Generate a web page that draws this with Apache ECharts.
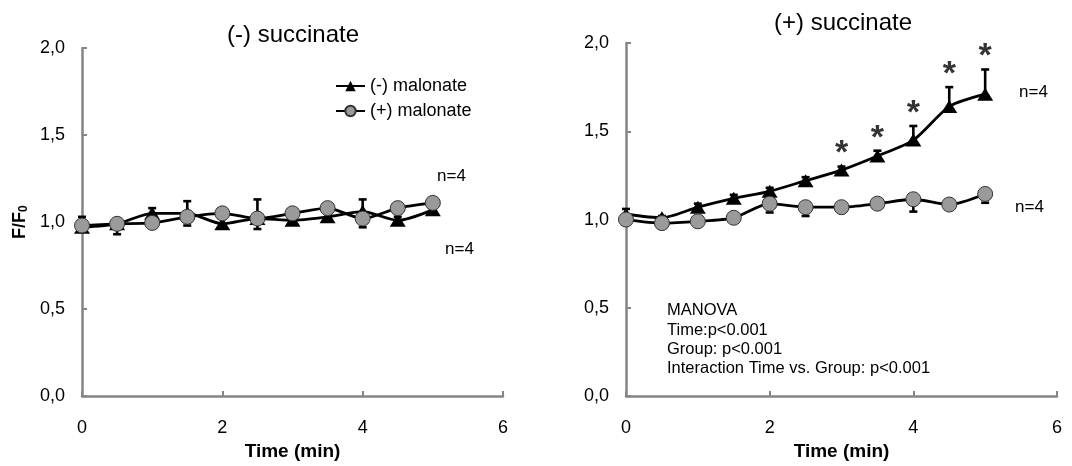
<!DOCTYPE html>
<html>
<head>
<meta charset="utf-8">
<script src="https://cdn.jsdelivr.net/npm/echarts@6/dist/echarts.min.js"></script>
<style>html,body{margin:0;padding:0;background:#fff}#c{width:1072px;height:466px}</style>
</head>
<body>
<div id="c"></div>
<script>
const time = [0, 0.5, 1, 1.5, 2, 2.5, 3, 3.5, 4, 4.5, 5];
const xTicks = [0, 2, 4, 6];
const yTicks = [0, 0.5, 1.0, 1.5, 2.0];
const titles = ['(-) succinate', '(+) succinate'];
const seriesNames = ['(-) malonate', '(+) malonate'];

// (-) succinate panel
const leftNoMal = [0.97, 0.99, 1.05, 1.05, 0.99, 1.02, 1.01, 1.03, 1.06, 1.01, 1.07];
const leftNoMalErr = [0.06, 0.02, 0.03, 0.07, 0.03, 0.11, 0.03, 0.02, 0.07, 0.02, 0.02];
const leftMal = [0.98, 0.99, 0.995, 1.03, 1.05, 1.02, 1.05, 1.08, 1.02, 1.08, 1.11];
const leftMalErr = [0.03, 0.06, 0.02, 0.05, 0.02, 0.06, 0.04, 0.01, 0.05, 0.01, 0.01];

// (+) succinate panel
const rightNoMal = [1.03, 1.01, 1.07, 1.12, 1.16, 1.22, 1.28, 1.36, 1.45, 1.64, 1.71];
const rightNoMalErr = [0.03, 0.01, 0.02, 0.02, 0.02, 0.02, 0.02, 0.03, 0.08, 0.11, 0.14];
const rightMal = [1.0, 0.98, 0.99, 1.01, 1.09, 1.07, 1.07, 1.09, 1.115, 1.085, 1.145];
const rightMalErr = [0.01, 0.01, 0.01, 0.01, 0.05, 0.05, 0.01, 0.02, 0.07, 0.01, 0.05];

const starIdx = [6, 7, 8, 9, 10];
const nLabels = ['n=4', 'n=4'];
const statsLines = ['MANOVA', 'Time:p<0.001', 'Group: p<0.001', 'Interaction Time vs. Group: p<0.001'];

const FONT = '"Liberation Sans", Arial, sans-serif';
const AXC = '#858585';

function pairs(vals) { return time.map((t, i) => [t, vals[i]]); }
function errData(vals, errs, dir) { return time.map((t, i) => [t, vals[i], dir * errs[i]]); }

function errSeries(idx, vals, errs, dir) {
  return {
    type: 'custom', xAxisIndex: idx, yAxisIndex: idx, z: 1, silent: true,
    data: errData(vals, errs, dir),
    renderItem: function (params, api) {
      const x = api.value(0), y = api.value(1), e = api.value(2);
      const p0 = api.coord([x, y]);
      const p1 = api.coord([x, y + e]);
      const st = { stroke: '#000', lineWidth: 2.6 };
      return {
        type: 'group',
        children: [
          { type: 'line', shape: { x1: p0[0], y1: p0[1], x2: p1[0], y2: p1[1] }, style: st },
          { type: 'line', shape: { x1: p1[0] - 4, y1: p1[1], x2: p1[0] + 4, y2: p1[1] }, style: st }
        ]
      };
    }
  };
}

function triSeries(idx, vals) {
  return {
    name: seriesNames[0], type: 'line', xAxisIndex: idx, yAxisIndex: idx, z: 3,
    data: pairs(vals), smooth: 0.25,
    symbol: 'triangle', symbolSize: [16, 13], showSymbol: true,
    lineStyle: { color: '#000', width: 2.8 },
    itemStyle: { color: '#000', borderColor: '#000', borderWidth: 0 }
  };
}
function cirSeries(idx, vals) {
  return {
    name: seriesNames[1], type: 'line', xAxisIndex: idx, yAxisIndex: idx, z: 4,
    data: pairs(vals), smooth: 0.25,
    symbol: 'circle', symbolSize: 15, showSymbol: true,
    lineStyle: { color: '#000', width: 2.8 },
    itemStyle: { color: '#9a9a9a', borderColor: '#333', borderWidth: 1 }
  };
}

function xAxisCfg(idx) {
  return {
    type: 'value', gridIndex: idx, min: 0, max: 6, interval: 2,
    axisLine: { show: true, lineStyle: { color: AXC, width: 2.5 } },
    axisTick: { show: true, inside: true, length: 5, lineStyle: { color: AXC, width: 2 } },
    axisLabel: { color: '#000', fontFamily: FONT, fontSize: 18, margin: 23 },
    splitLine: { show: false },
    name: 'Time (min)', nameLocation: 'middle', nameGap: 34,
    nameTextStyle: { color: '#000', fontFamily: FONT, fontSize: 19, fontWeight: 'bold' }
  };
}
function yAxisCfg(idx) {
  const cfg = {
    type: 'value', gridIndex: idx, min: 0, max: 2, interval: 0.5,
    axisLine: { show: true, lineStyle: { color: AXC, width: 2.5 } },
    axisTick: { show: true, inside: true, length: 5, lineStyle: { color: AXC, width: 2 } },
    axisLabel: {
      color: '#000', fontFamily: FONT, fontSize: 18, margin: 17,
      formatter: v => v.toFixed(1).replace('.', ',')
    },
    splitLine: { show: false }
  };
  if (idx === 0) {
    cfg.name = '{a|F/F}{b|0}';
    cfg.nameLocation = 'middle';
    cfg.nameGap = 52;
    cfg.nameRotate = 90;
    cfg.nameTextStyle = {
      rich: {
        a: { fontFamily: FONT, fontSize: 18, fontWeight: 'bold', color: '#000' },
        b: { fontFamily: FONT, fontSize: 12, fontWeight: 'bold', color: '#000', verticalAlign: 'bottom', padding: [7, 0, 0, 0] }
      }
    };
  }
  return cfg;
}

const starData = starIdx.map(i => [time[i], rightNoMal[i] + rightNoMalErr[i]]);

const chart = echarts.init(document.getElementById('c'), null, { renderer: 'canvas' });
chart.setOption({
  animation: false,
  backgroundColor: '#fff',
  title: [
    { text: titles[0], left: 288, top: 18, textAlign: 'center', textStyle: { fontFamily: FONT, fontSize: 24, fontWeight: 'normal', color: '#000' } },
    { text: titles[1], left: 838, top: 6, textAlign: 'center', textStyle: { fontFamily: FONT, fontSize: 24, fontWeight: 'normal', color: '#000' } }
  ],
  legend: {
    data: seriesNames, orient: 'vertical', left: 330, top: 72,
    itemWidth: 29, itemHeight: 13, itemGap: 7,
    textStyle: { fontFamily: FONT, fontSize: 18, color: '#000' }
  },
  grid: [
    { left: 82, right: 569, top: 48, bottom: 63, containLabel: false },
    { left: 626, right: 15, top: 43, bottom: 61, containLabel: false }
  ],
  xAxis: [xAxisCfg(0), xAxisCfg(1)],
  yAxis: [yAxisCfg(0), yAxisCfg(1)],
  series: [
    errSeries(0, leftNoMal, leftNoMalErr, 1),
    errSeries(0, leftMal, leftMalErr, -1),
    triSeries(0, leftNoMal),
    cirSeries(0, leftMal),
    errSeries(1, rightNoMal, rightNoMalErr, 1),
    errSeries(1, rightMal, rightMalErr, -1),
    triSeries(1, rightNoMal),
    cirSeries(1, rightMal),
    {
      type: 'scatter', xAxisIndex: 1, yAxisIndex: 1, z: 5, silent: true,
      data: starData, symbolSize: 1, itemStyle: { color: 'rgba(0,0,0,0)' },
      label: { show: true, position: 'top', distance: -5, formatter: '*', fontFamily: FONT, fontSize: 34, fontWeight: 'bold', color: '#000' }
    }
  ],
  graphic: [
    { type: 'text', left: 437, top: 168, style: { text: nLabels[0], fontFamily: FONT, fontSize: 17, fill: '#000' } },
    { type: 'text', left: 445, top: 241, style: { text: nLabels[1], fontFamily: FONT, fontSize: 17, fill: '#000' } },
    { type: 'text', left: 1019, top: 84, style: { text: nLabels[0], fontFamily: FONT, fontSize: 17, fill: '#000' } },
    { type: 'text', left: 1015, top: 199, style: { text: nLabels[1], fontFamily: FONT, fontSize: 17, fill: '#000' } },
    { type: 'text', left: 667, top: 301, style: { text: statsLines.join('\n'), fontFamily: FONT, fontSize: 16.5, lineHeight: 19.4, fill: '#000' } }
  ]
});
</script>
</body>
</html>
